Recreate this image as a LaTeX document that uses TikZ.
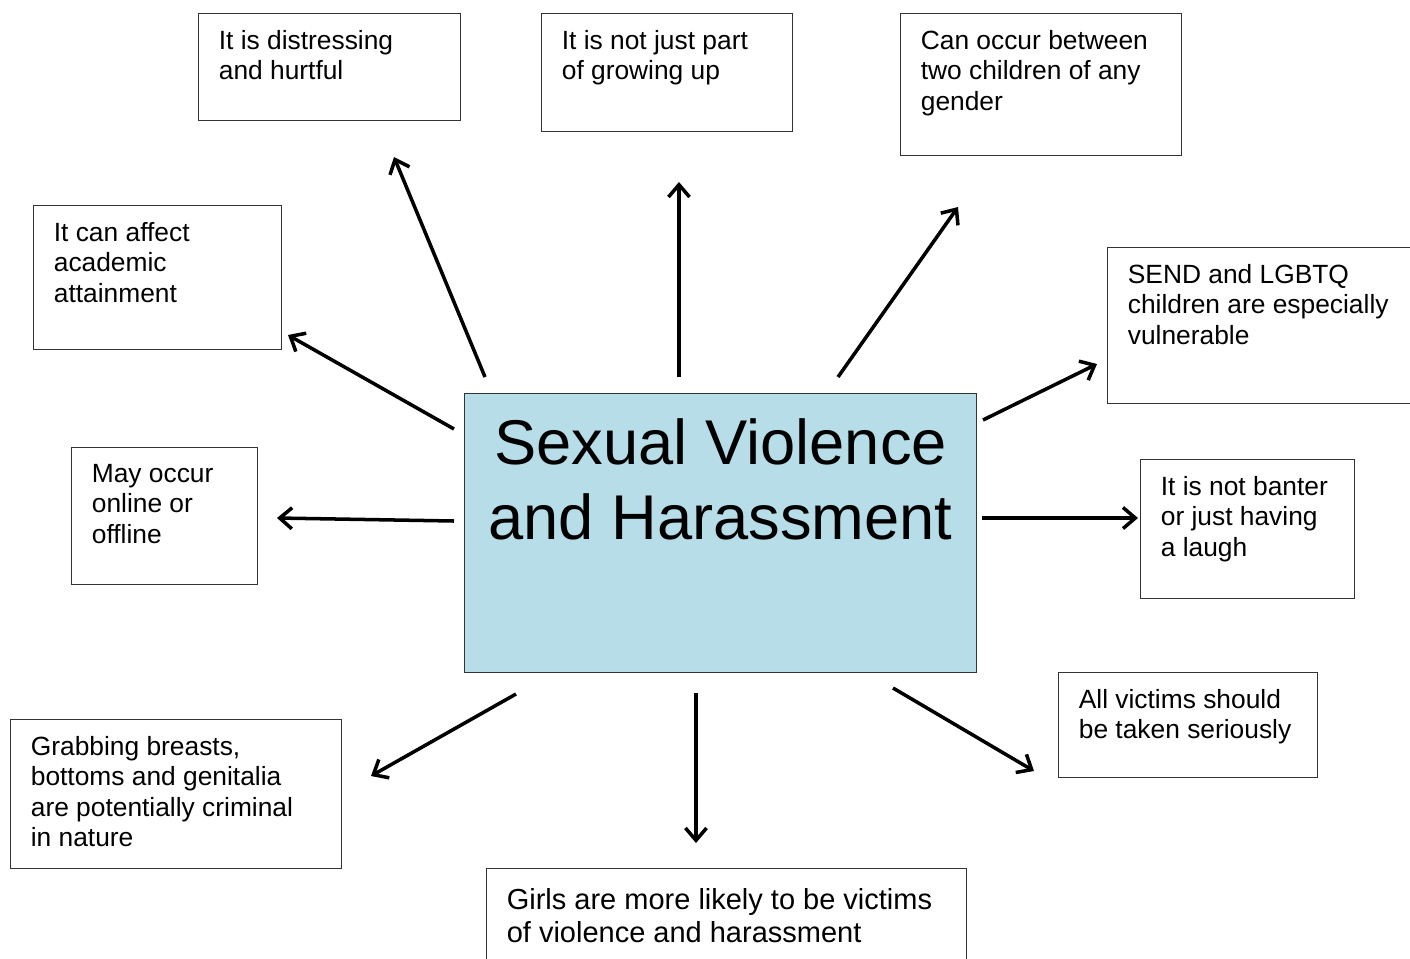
\documentclass[tikz,border=0pt]{standalone}
\usepackage{fontspec}
\setmainfont{Liberation Sans}
\usetikzlibrary{arrows.meta, positioning}
\definecolor{hubblue}{RGB}{183,221,232}

\tikzset{
  box/.style={draw=black!80, line width=0.8pt, rectangle, inner sep=0pt, anchor=north west},
  txt/.style={font=\fontsize{15}{17.3}\selectfont, align=left, inner sep=0pt,
              anchor=north west, xshift=0.41cm, yshift=-0.34cm},
  bigtxt/.style={txt, font=\fontsize{16.5}{18.7}\selectfont, yshift=-0.06cm},
  hubtxt/.style={font=\fontsize{36}{43}\selectfont, align=center, inner sep=0pt,
                 anchor=north, yshift=-0.5cm},
  arr/.style={-{Straight Barb[length=7pt,width=12pt]}, line width=2pt},
}

\begin{document}
\begin{tikzpicture}[x=0.02cm, y=-0.02cm]
\useasboundingbox (0,0) rectangle (1410,958);

% centre box
\node[box, fill=hubblue, minimum width=10.24cm, minimum height=5.58cm,
  label={[hubtxt]north:Sexual Violence\\and Harassment}] (svh) at (464,393) {};

% outer boxes
\node[box, minimum width=5.24cm, minimum height=2.14cm,
  label={[txt]north west:It is distressing\\and hurtful}] (dist) at (198,13) {};
\node[box, minimum width=5.02cm, minimum height=2.36cm,
  label={[txt]north west:It is not just part\\of growing up}] (grow) at (541,13) {};
\node[box, minimum width=5.62cm, minimum height=2.84cm,
  label={[txt]north west:Can occur between\\two children of any\\gender}] (gender) at (900,13) {};
\node[box, minimum width=4.96cm, minimum height=2.88cm,
  label={[txt]north west:It can affect\\academic\\attainment}] (acad) at (33,205) {};
\node[box, minimum width=6.4cm, minimum height=3.12cm,
  label={[txt]north west:SEND and LGBTQ\\children are especially\\vulnerable}] (send) at (1107,247) {};
\node[box, minimum width=3.72cm, minimum height=2.74cm,
  label={[txt]north west:May occur\\online or\\offline}] (online) at (71,447) {};
\node[box, minimum width=4.28cm, minimum height=2.78cm,
  label={[txt]north west:It is not banter\\or just having\\a laugh}] (banter) at (1140,459) {};
\node[box, minimum width=5.18cm, minimum height=2.1cm,
  label={[txt]north west:All victims should\\be taken seriously}] (victims) at (1058,672) {};
\node[box, minimum width=6.62cm, minimum height=2.98cm,
  label={[txt]north west:Grabbing breasts,\\bottoms and genitalia\\are potentially criminal\\in nature}] (grab) at (10,719) {};
\node[box, minimum width=9.6cm, minimum height=2.4cm,
  label={[bigtxt]north west:Girls are more likely to be victims\\of violence and harassment}] (girls) at (486,868) {};

% arrow ends
\coordinate (dist-t) at (485,377);    \coordinate (dist-h) at (394,157);
\coordinate (grow-t) at (679,377);    \coordinate (grow-h) at (679,182);
\coordinate (gender-t) at (838,377);  \coordinate (gender-h) at (958,207);
\coordinate (acad-t) at (454,429);    \coordinate (acad-h) at (288,335);
\coordinate (send-t) at (983,420);    \coordinate (send-h) at (1097,364);
\coordinate (online-t) at (454,521);  \coordinate (online-h) at (277,518);
\coordinate (banter-t) at (982,518);  \coordinate (banter-h) at (1138,518);
\coordinate (grab-t) at (516,694);    \coordinate (grab-h) at (371,776);
\coordinate (girls-t) at (696,693);   \coordinate (girls-h) at (696,843);
\coordinate (victims-t) at (893,688); \coordinate (victims-h) at (1034,771);

\foreach \n in {dist,grow,gender,acad,send,online,banter,grab,girls,victims}
  \draw[arr] (\n-t) -- (\n-h);
\end{tikzpicture}
\end{document}
